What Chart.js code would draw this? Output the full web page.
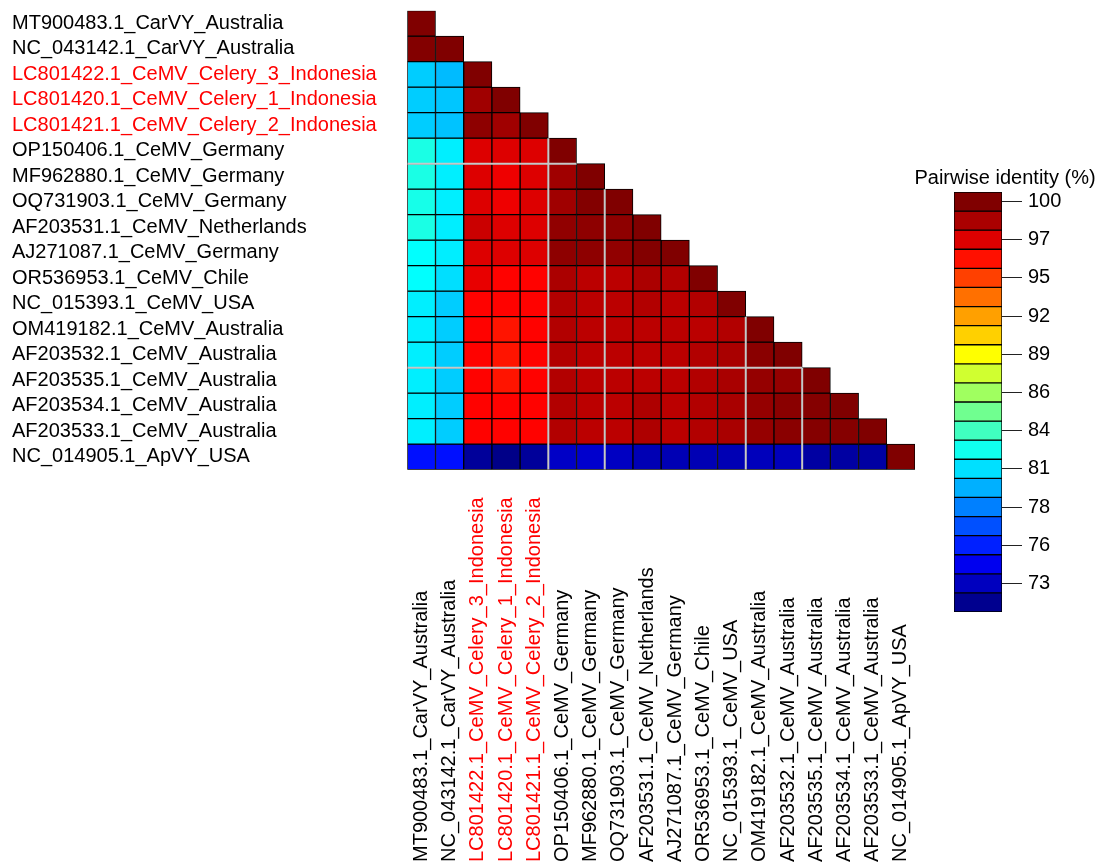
<!DOCTYPE html>
<html>
<head>
<meta charset="utf-8">
<title>Pairwise identity</title>
<script src="https://cdn.jsdelivr.net/npm/chart.js@4.4.1/dist/chart.umd.min.js"></script>
<style>
  html, body { margin: 0; padding: 0; background: #fff; }
  body { width: 1101px; height: 866px; position: relative; overflow: hidden; }
  #heat { position: absolute; left: 0; top: 0; }
  #scale { position: absolute; left: 909px; top: 160px; }
</style>
</head>
<body>
<canvas id="heat" width="930" height="866"></canvas>
<canvas id="scale" width="192" height="470"></canvas>
<script>
// sequences, top to bottom (rows) and left to right (columns)
const sequences = [
  'MT900483.1_CarVY_Australia',
  'NC_043142.1_CarVY_Australia',
  'LC801422.1_CeMV_Celery_3_Indonesia',
  'LC801420.1_CeMV_Celery_1_Indonesia',
  'LC801421.1_CeMV_Celery_2_Indonesia',
  'OP150406.1_CeMV_Germany',
  'MF962880.1_CeMV_Germany',
  'OQ731903.1_CeMV_Germany',
  'AF203531.1_CeMV_Netherlands',
  'AJ271087.1_CeMV_Germany',
  'OR536953.1_CeMV_Chile',
  'NC_015393.1_CeMV_USA',
  'OM419182.1_CeMV_Australia',
  'AF203532.1_CeMV_Australia',
  'AF203535.1_CeMV_Australia',
  'AF203534.1_CeMV_Australia',
  'AF203533.1_CeMV_Australia',
  'NC_014905.1_ApVY_USA'
];

// sequences written in red
const highlighted = [
  'LC801422.1_CeMV_Celery_3_Indonesia',
  'LC801420.1_CeMV_Celery_1_Indonesia',
  'LC801421.1_CeMV_Celery_2_Indonesia'
];

// pairwise identity (%), lower triangle, one list per row
const identityRows = [
  [100],
  [99.9, 100],
  [80.9, 80.4, 100],
  [80.9, 80.7, 99.1, 100],
  [80.9, 80.6, 99.6, 99.1, 100],
  [83.0, 81.85, 97.4, 97.4, 97.4, 100],
  [83.0, 81.85, 97.4, 96.9, 97.4, 99.1, 100],
  [82.9, 81.85, 97.4, 96.9, 97.4, 99.1, 99.9, 100],
  [83.0, 81.8, 97.9, 97.4, 97.4, 99.5, 99.6, 99.6, 100],
  [82.3, 81.8, 97.4, 97.4, 97.4, 99.6, 99.6, 99.5, 99.9, 100],
  [82.3, 81.4, 97.1, 96.4, 96.4, 98.8, 98.35, 98.35, 98.8, 98.6, 100],
  [81.85, 80.9, 96.4, 96.4, 96.4, 98.6, 98.35, 98.35, 98.6, 98.35, 98.6, 100],
  [81.85, 80.9, 96.4, 95.9, 96.4, 98.6, 98.35, 98.35, 98.35, 98.35, 98.35, 98.6, 100],
  [81.85, 80.9, 96.4, 95.9, 96.4, 98.6, 98.35, 98.35, 98.35, 98.35, 98.6, 98.85, 99.7, 100],
  [81.85, 80.9, 96.4, 95.9, 96.4, 98.6, 98.35, 98.35, 98.35, 98.35, 98.6, 98.85, 99.4, 99.4, 100],
  [81.85, 80.9, 96.4, 96.4, 96.4, 98.6, 98.35, 98.35, 98.7, 98.35, 98.6, 98.85, 99.4, 99.7, 99.85, 100],
  [81.85, 80.9, 96.4, 96.4, 96.4, 98.6, 98.35, 98.35, 98.7, 98.35, 98.6, 98.85, 99.4, 99.7, 99.85, 99.85, 100],
  [75.6, 75.6, 72.4, 71.9, 72.4, 73.6, 73.8, 73.5, 73.1, 73.1, 73.1, 73.1, 73.3, 73.3, 72.6, 72.6, 72.6, 100]
];

// cluster separators, in cell units: [x1, y1, x2, y2]
const clusterLines = [
  [5, 5, 5, 18],
  [0, 6, 6, 6],
  [7, 7, 7, 18],
  [12, 12, 12, 18],
  [0, 14, 14, 14],
  [14, 14, 14, 18]
];

// colour key, top (100) to bottom
const legendColors = [
  '#800000', '#aa0000', '#dd0000', '#ff1000', '#ff4000', '#ff7000',
  '#ffa000', '#ffd000', '#ffff00', '#d0ff30', '#a0ff60', '#70ff90',
  '#40ffc0', '#10ffef', '#00e0ff', '#00b0ff', '#0080ff', '#0050ff',
  '#0020ff', '#0000ef', '#0000bf', '#00008f'
];
const legendTicks = ['100', '97', '95', '92', '89', '86', '84', '81', '78', '76', '73'];

const COLOR_MIN = 71.65;
const COLOR_MAX = 100;
const FONT = { family: 'Arial, "Liberation Sans", sans-serif', size: 20, weight: 'normal' };

// jet colour map
function jet(v) {
  const t = Math.min(1, Math.max(0, (v - COLOR_MIN) / (COLOR_MAX - COLOR_MIN)));
  const c = (x) => Math.round(255 * Math.min(1, Math.max(0, x)));
  const r = c(1.5 - Math.abs(4 * t - 3));
  const g = c(1.5 - Math.abs(4 * t - 2));
  const b = c(1.5 - Math.abs(4 * t - 1));
  return `rgb(${r},${g},${b})`;
}

const isRed = (name) => highlighted.includes(name);

const cellSets = identityRows.map((row, i) => ({
  type: 'bar',
  xAxisID: 'x',
  yAxisID: 'y',
  data: sequences.map((_, j) => (j < row.length ? [i, i + 1] : null)),
  backgroundColor: sequences.map((_, j) => (j < row.length ? jet(row[j]) : 'rgba(0,0,0,0)')),
  borderColor: '#000',
  borderWidth: 1,
  borderSkipped: false,
  grouped: false,
  barPercentage: 1,
  categoryPercentage: 1,
  order: 1
}));

const lineSets = clusterLines.map(([x1, y1, x2, y2]) => ({
  type: 'line',
  xAxisID: 'x2',
  yAxisID: 'y',
  data: [{ x: x1, y: y1 }, { x: x2, y: y2 }],
  borderColor: '#c8c8c8',
  borderWidth: 2,
  pointRadius: 0,
  fill: false,
  order: 0
}));

// rotated column names under the matrix, one per category
const columnLabels = {
  id: 'columnLabels',
  afterDraw(chart) {
    const { ctx } = chart;
    const x = chart.scales.x;
    ctx.save();
    ctx.font = `${FONT.size}px ${FONT.family}`;
    ctx.textAlign = 'left';
    ctx.textBaseline = 'middle';
    sequences.forEach((name, j) => {
      ctx.save();
      ctx.translate(x.getPixelForValue(j), chart.height - 4);
      ctx.rotate(-Math.PI / 2);
      ctx.fillStyle = isRed(name) ? '#ff0000' : '#000';
      ctx.fillText(name, 0, 0);
      ctx.restore();
    });
    ctx.restore();
  }
};

new Chart(document.getElementById('heat'), {
  type: 'bar',
  data: { labels: sequences, datasets: [...cellSets, ...lineSets] },
  options: {
    responsive: false,
    animation: false,
    events: [],
    layout: { padding: { left: 12, top: 10.7, right: 15, bottom: 396.3 } },
    plugins: { legend: { display: false }, tooltip: { enabled: false } },
    scales: {
      x: { type: 'category', display: false, grid: { display: false } },
      x2: { type: 'linear', display: false, offset: false, min: 0, max: sequences.length },
      y: {
        type: 'linear',
        reverse: true,
        min: 0,
        max: sequences.length,
        afterBuildTicks: (s) => { s.ticks = sequences.map((_, i) => ({ value: i + 0.5 })); },
        afterFit: (s) => { s.width = 395.3; s.paddingTop = 0; s.paddingBottom = 0; },
        ticks: {
          autoSkip: false,
          crossAlign: 'far',
          padding: 0,
          font: FONT,
          color: (c) => (isRed(sequences[c.index]) ? '#ff0000' : '#000'),
          callback: (v, i) => sequences[i]
        },
        grid: { display: false },
        border: { display: false }
      }
    }
  },
  plugins: [columnLabels]
});

new Chart(document.getElementById('scale'), {
  type: 'bar',
  data: {
    labels: [''],
    datasets: legendColors.map((c, k) => ({
      xAxisID: 'x',
      yAxisID: 'y',
      data: [[k, k + 1]],
      backgroundColor: c,
      borderColor: '#000',
      borderWidth: 1,
      borderSkipped: false,
      grouped: false,
      barPercentage: 1,
      categoryPercentage: 1
    }))
  },
  options: {
    responsive: false,
    animation: false,
    events: [],
    layout: { padding: { left: 0, right: 0, top: 0, bottom: 18 } },
    plugins: {
      legend: { display: false },
      tooltip: { enabled: false },
      title: {
        display: true,
        text: 'Pairwise identity (%)',
        color: '#000',
        font: FONT,
        padding: { top: 6, bottom: 2 }
      }
    },
    scales: {
      x: { display: false },
      y: {
        type: 'linear',
        position: 'right',
        reverse: true,
        min: 0,
        max: legendColors.length,
        afterBuildTicks: (s) => { s.ticks = legendTicks.map((_, k) => ({ value: 2 * k + 0.5 })); },
        afterFit: (s) => { s.width = 99; },
        ticks: {
          autoSkip: false,
          padding: 6,
          font: FONT,
          color: '#000',
          callback: (v, i) => legendTicks[i]
        },
        grid: { display: true, drawOnChartArea: false, drawTicks: true, tickLength: 20, tickColor: '#222', tickWidth: 1 },
        border: { display: false }
      },
      pad: {
        type: 'linear',
        position: 'left',
        ticks: { display: false },
        grid: { display: false },
        border: { display: false },
        afterFit: (s) => { s.width = 45; }
      }
    }
  }
});
</script>
</body>
</html>
